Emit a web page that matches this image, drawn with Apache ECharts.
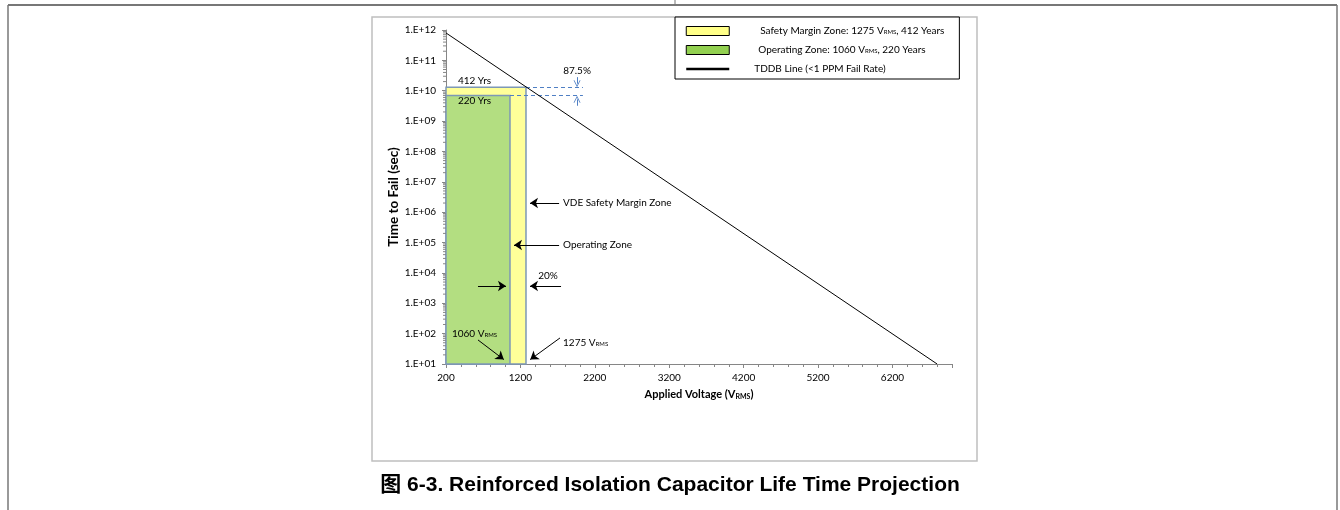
<!DOCTYPE html>
<html><head><meta charset="utf-8">
<script src="https://cdn.jsdelivr.net/npm/echarts@6/dist/echarts.min.js"></script>
<style>html,body{margin:0;padding:0;background:#fff}#c{width:1340px;height:510px}</style>
</head><body><div id="c"></div>
<script>
// ---- data ----
const zoneNames = ['Safety Margin Zone', 'Operating Zone'];
const zoneVoltage = [1275, 1060];          // V_RMS
const zoneYears = [412, 220];              // years
const zoneTimeSec = [1.30e10, 6.94e9];     // seconds
const timeFloor = 10;                      // bottom of the zones (1.E+01)
const voltageStart = 200;
const tddbName = 'TDDB Line';
const tddbVoltage = [200, 6800];
const tddbTime = [8.0e11, 10];
const yDecades = [1, 2, 3, 4, 5, 6, 7, 8, 9, 10, 11, 12];
const marginPercent = ['87.5%', '20%'];

const FONT = 'Lato, "Open Sans", sans-serif';
const subRich = {
  sub: { fontSize: 6, fontFamily: FONT, padding: [3, 0, 0, 0], color: '#000' }
};
const subRichBold = {
  sub: { fontSize: 7, fontFamily: FONT, fontWeight: 'bold', padding: [4, 0, 0, 0], color: '#000' }
};

function fmtLog(v) {
  const e = Math.round(Math.log10(v));
  return '1.E+' + String(e).padStart(2, '0');
}

// minor log ticks (2..9 x 10^n) drawn through the y scale
const minorLogTicks = [];
yDecades.slice(0, -1).forEach(function (d) {
  for (let k = 2; k <= 9; k++) minorLogTicks.push([voltageStart, k * Math.pow(10, d)]);
});

const zoneColors = ['#FFFF99', '#B3DE81'];
const legendColors = ['#FFFF88', '#92D050'];

function zoneItem(params, api) {
  const p0 = api.coord([api.value(0), api.value(1)]);
  const p1 = api.coord([api.value(2), api.value(3)]);
  return {
    type: 'rect',
    shape: { x: p0[0], y: p1[1], width: p1[0] - p0[0], height: p0[1] - p1[1] },
    style: { fill: api.visual('color'), stroke: '#7D98B6', lineWidth: 1.5 }
  };
}

// annotation texts, positioned in data coordinates
const notes = [
  { v: 360, t: 2.2e10, text: zoneYears[0] + ' Yrs', align: 'left' },
  { v: 360, t: 4.6e9, text: zoneYears[1] + ' Yrs', align: 'left' },
  { v: 1961, t: 4.5e10, text: marginPercent[0], align: 'center' },
  { v: 1773, t: 2.0e6, text: 'VDE Safety Margin Zone', align: 'left' },
  { v: 1773, t: 8.3e4, text: 'Operating Zone', align: 'left' },
  { v: 1571, t: 8.0e3, text: marginPercent[1], align: 'center' },
  { v: 280, t: 100, text: zoneVoltage[1] + ' V{sub|RMS}', align: 'left' },
  { v: 1773, t: 49, text: zoneVoltage[0] + ' V{sub|RMS}', align: 'left' }
];

function noteItem(params, api) {
  const n = notes[params.dataIndex];
  const p = api.coord([n.v, n.t]);
  return {
    type: 'text', x: p[0], y: p[1],
    style: {
      text: n.text, align: n.align, verticalAlign: 'middle',
      fontSize: 10, fontFamily: FONT, fill: '#000', rich: subRich
    }
  };
}

const blackArrows = [
  [[1720, 2.0e6], [1329, 2.0e6]],
  [[1720, 8.3e4], [1114, 8.3e4]],
  [[630, 3.7e3], [1006, 3.7e3]],
  [[1746, 3.7e3], [1329, 3.7e3]],
  [[630, 62], [977, 14]],
  [[1732, 72], [1332, 14]]
];
const blueDashed = [
  [[zoneVoltage[0], zoneTimeSec[0]], [2040, zoneTimeSec[0]]],
  [[zoneVoltage[1], zoneTimeSec[1]], [2040, zoneTimeSec[1]]]
];
const blueArrows = [
  [[1961, 2.8e10], [1961, 1.7e10]],
  [[1961, 3.2e9], [1961, 5.2e9]]
];
const chevron = 'path://M0,10 L5,0 L10,10 L8.8,10 L5,2.4 L1.2,10 Z';

const markLines = [];
blackArrows.forEach(function (a) {
  markLines.push([
    { coord: a[0], symbol: 'none', lineStyle: { color: '#000', width: 1, type: 'solid' } },
    { coord: a[1], symbol: 'arrow', symbolSize: 8 }
  ]);
});
blueDashed.forEach(function (a) {
  markLines.push([
    { coord: a[0], symbol: 'none', lineStyle: { color: '#4F7FC4', width: 1, type: [4, 3] } },
    { coord: a[1], symbol: 'none' }
  ]);
});
blueArrows.forEach(function (a) {
  markLines.push([
    { coord: a[0], symbol: 'none', lineStyle: { color: '#4F7FC4', width: 1, type: 'solid' } },
    { coord: a[1], symbol: chevron, symbolSize: 7 }
  ]);
});

const legendLabels = {};
legendLabels[zoneNames[0]] = zoneNames[0] + ': ' + zoneVoltage[0] + ' V{sub|RMS}, ' + zoneYears[0] + ' Years';
legendLabels[zoneNames[1]] = zoneNames[1] + ': ' + zoneVoltage[1] + ' V{sub|RMS}, ' + zoneYears[1] + ' Years';
legendLabels[tddbName] = tddbName + ' (<1 PPM Fail Rate)';

const chart = echarts.init(document.getElementById('c'), null, { renderer: 'canvas' });
const option = {
  animation: false,
  backgroundColor: '#fff',
  title: {
    text: '图 6-3. Reinforced Isolation Capacitor Life Time Projection',
    left: 'center', top: 470,
    textStyle: { fontSize: 21, fontWeight: 'bold', color: '#000',
      fontFamily: '"Liberation Sans", "Noto Sans CJK SC", sans-serif' }
  },
  graphic: [
    { type: 'rect', shape: { x: 372, y: 17, width: 605, height: 444 },
      style: { fill: 'none', stroke: '#BFBFBF', lineWidth: 1.5 }, z: -10 },
    { type: 'line', shape: { x1: 8, y1: 5, x2: 1337, y2: 5 }, style: { stroke: '#777', lineWidth: 2 } },
    { type: 'line', shape: { x1: 675, y1: 0, x2: 675, y2: 5 }, style: { stroke: '#777', lineWidth: 1 } },
    { type: 'line', shape: { x1: 8, y1: 5, x2: 8, y2: 510 }, style: { stroke: '#777', lineWidth: 1.5 } },
    { type: 'line', shape: { x1: 1337, y1: 5, x2: 1337, y2: 510 }, style: { stroke: '#777', lineWidth: 1.5 } }
  ],
  legend: {
    orient: 'vertical', left: 675, top: 17,
    padding: [9, 15, 5, 10],
    itemWidth: 43, itemHeight: 9, itemGap: 9,
    backgroundColor: '#fff', borderColor: '#000', borderWidth: 1,
    selectedMode: false,
    formatter: function (name) { return legendLabels[name]; },
    textStyle: { fontSize: 10, fontFamily: FONT, color: '#000', rich: subRich },
    data: [
      { name: zoneNames[0], icon: 'rect',
        itemStyle: { color: legendColors[0], borderColor: '#000', borderWidth: 1 },
        textStyle: { padding: [0, 0, 0, 26] } },
      { name: zoneNames[1], icon: 'rect',
        itemStyle: { color: legendColors[1], borderColor: '#000', borderWidth: 1 },
        textStyle: { padding: [0, 0, 0, 24] } },
      { name: tddbName, lineStyle: { width: 2.5, color: '#000' }, itemStyle: { opacity: 0 },
        textStyle: { padding: [0, 0, 0, 20] } }
    ]
  },
  grid: { left: 446, top: 30, right: 388, bottom: 146, containLabel: false, outerBoundsMode: 'none' },
  xAxis: {
    type: 'value', min: voltageStart, max: 7000, interval: 1000,
    name: 'Applied Voltage (V{sub|RMS})', nameLocation: 'middle', nameGap: 25,
    nameTextStyle: { fontSize: 11, fontWeight: 'bold', fontFamily: FONT, color: '#000', rich: subRichBold },
    axisLine: { lineStyle: { color: '#868686', width: 1 } },
    axisTick: { show: true, length: 4, lineStyle: { color: '#868686' } },
    minorTick: { show: true, splitNumber: 5, length: 3, lineStyle: { color: '#868686' } },
    splitLine: { show: false },
    axisLabel: { fontSize: 10, fontFamily: FONT, color: '#000', margin: 9, showMaxLabel: false,
      formatter: function (v) { return String(v); } }
  },
  yAxis: {
    type: 'log', logBase: 10, min: timeFloor, max: Math.pow(10, yDecades[yDecades.length - 1]),
    interval: 1, splitNumber: 11,
    name: 'Time to Fail (sec)', nameLocation: 'middle', nameGap: 44, nameRotate: 90,
    nameTextStyle: { fontSize: 13.5, fontWeight: 'bold', fontFamily: FONT, color: '#000' },
    axisLine: { show: true, lineStyle: { color: '#868686', width: 1 } },
    axisTick: { show: true, length: 4, lineStyle: { color: '#868686' } },
    splitLine: { show: false },
    axisLabel: { fontSize: 10, fontFamily: FONT, color: '#000', margin: 10, formatter: fmtLog, interval: 0 }
  },
  series: [
    { name: zoneNames[0], type: 'custom', renderItem: zoneItem, color: zoneColors[0],
      encode: { x: [0, 2], y: [1, 3] }, z: 2,
      data: [[voltageStart, timeFloor, zoneVoltage[0], zoneTimeSec[0]]] },
    { name: zoneNames[1], type: 'custom', renderItem: zoneItem, color: zoneColors[1],
      encode: { x: [0, 2], y: [1, 3] }, z: 3,
      data: [[voltageStart, timeFloor, zoneVoltage[1], zoneTimeSec[1]]] },
    { name: tddbName, type: 'line', symbol: 'none', z: 5, color: '#000',
      lineStyle: { color: '#000', width: 1 },
      data: tddbVoltage.map(function (v, i) { return [v, tddbTime[i]]; }) },
    { name: 'minorTicks', type: 'custom', z: 6, silent: true,
      renderItem: function (params, api) {
        const p = api.coord([api.value(0), api.value(1)]);
        return { type: 'line', shape: { x1: p[0] - 3, y1: p[1], x2: p[0], y2: p[1] },
          style: { stroke: '#868686', lineWidth: 1 } };
      },
      data: minorLogTicks },
    { name: 'notes', type: 'custom', z: 7, renderItem: noteItem, silent: true,
      data: notes.map(function (n) { return [n.v, n.t]; }),
      markLine: { silent: true, animation: false, label: { show: false },
        symbolSize: 8, data: markLines } }
  ]
};
chart.setOption(option);
</script></body></html>
